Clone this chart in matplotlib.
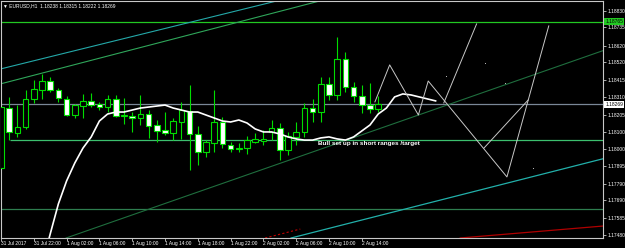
import matplotlib
matplotlib.use('Agg')
import matplotlib.pyplot as plt
import numpy as np

# ---------------- data (EURUSD H1) ----------------
opens = [1.17884, 1.18245, 1.18095, 1.18131, 1.18300, 1.18354, 1.18408, 1.18354, 1.18300, 1.18203,
         1.18257, 1.18288, 1.18269, 1.18251, 1.18300, 1.18197, 1.18197, 1.18185, 1.18209, 1.18143,
         1.18113, 1.18095, 1.18161, 1.18227, 1.18089, 1.17980, 1.18034, 1.18161, 1.18022, 1.17998,
         1.18004, 1.18040, 1.18046, 1.18101, 1.18125, 1.17992, 1.18071, 1.18101, 1.18245, 1.18221,
         1.18390, 1.18324, 1.18541, 1.18372, 1.18318, 1.18263, 1.18238]
highs = [1.18300, 1.18312, 1.18263, 1.18354, 1.18414, 1.18450, 1.18432, 1.18366, 1.18318, 1.18269,
         1.18330, 1.18336, 1.18282, 1.18324, 1.18324, 1.18306, 1.18221, 1.18324, 1.18233, 1.18173,
         1.18221, 1.18185, 1.18282, 1.18384, 1.18137, 1.18052, 1.18354, 1.18191, 1.18040, 1.18034,
         1.18077, 1.18095, 1.18113, 1.18173, 1.18155, 1.18101, 1.18161, 1.18275, 1.18300, 1.18432,
         1.18432, 1.18673, 1.18583, 1.18402, 1.18384, 1.18396, 1.18315]
lows = [1.17872, 1.18052, 1.18071, 1.18119, 1.18275, 1.18300, 1.18342, 1.18282, 1.18197, 1.18185,
        1.18185, 1.18251, 1.18233, 1.18221, 1.18191, 1.18149, 1.18101, 1.18143, 1.18065, 1.18040,
        1.18083, 1.18052, 1.18059, 1.17872, 1.17902, 1.17950, 1.17980, 1.18004, 1.17980, 1.17980,
        1.17968, 1.18034, 1.18022, 1.18052, 1.17932, 1.17962, 1.18022, 1.18071, 1.18161, 1.18161,
        1.18294, 1.18294, 1.18342, 1.18282, 1.18215, 1.18215, 1.18222]
closes = [1.18251, 1.18101, 1.18131, 1.18300, 1.18360, 1.18408, 1.18354, 1.18306, 1.18203, 1.18263,
          1.18288, 1.18263, 1.18251, 1.18300, 1.18197, 1.18203, 1.18185, 1.18209, 1.18137, 1.18107,
          1.18095, 1.18167, 1.18233, 1.18089, 1.17980, 1.18040, 1.18161, 1.18028, 1.17998, 1.18004,
          1.18052, 1.18059, 1.18059, 1.18125, 1.17992, 1.18077, 1.18101, 1.18245, 1.18221, 1.18390,
          1.18324, 1.18541, 1.18372, 1.18318, 1.18263, 1.18239, 1.18269]

# shifted moving average (starts at bar 4, extends 7 bars to the right)
ma_start = 4
ma_values = [1.17088, 1.17299, 1.17486, 1.17668, 1.17806, 1.17914, 1.18004, 1.18071, 1.18167, 1.18209,
             1.18221, 1.18221, 1.18233, 1.18245, 1.18251, 1.18257, 1.18263, 1.18245, 1.18233, 1.18221,
             1.18221, 1.18203, 1.18185, 1.18167, 1.18161, 1.18173, 1.18155, 1.18119, 1.18101, 1.18101,
             1.18089, 1.18071, 1.18059, 1.18052, 1.18052, 1.18065, 1.18071, 1.18059, 1.18052, 1.18071,
             1.18107, 1.18143, 1.18209, 1.18245, 1.18312, 1.18330, 1.18324, 1.18312, 1.18300, 1.18288]

time_tick_bars = [0, 4, 8, 12, 16, 20, 24, 28, 32, 36, 40, 44]
time_tick_labels = ["31 Jul 2017", "31 Jul 22:00", "1 Aug 02:00", "1 Aug 06:00", "1 Aug 10:00",
                    "1 Aug 14:00", "1 Aug 18:00", "1 Aug 22:00", "2 Aug 02:00", "2 Aug 06:00",
                    "2 Aug 10:00", "2 Aug 14:00"]
price_ticks = [1.18830, 1.18735, 1.18620, 1.18520, 1.18415, 1.18310, 1.18205, 1.18100,
               1.18000, 1.17895, 1.17790, 1.17690, 1.17585, 1.17480]

# drawn objects: horizontal levels and trend lines (bar index, price)
level_top = 1.18765
level_bid = 1.18269
level_mid = 1.18052
level_low = 1.17637
trend_a = [(-0.1, 1.18480), (26.7, 1.18806)]
trend_b = [(-0.1, 1.18390), (26.7, 1.18734)]
trend_d = [(45.0, 1.18101), (73.3, 1.18589)]
trend_c = [(58.4, 1.17751), (73.3, 1.17938)]
trend_red = [(56.0, 1.17462), (73.4, 1.17534)]
red_dotted = [(32.2, 1.17462), (36.5, 1.17516)]
proj1_x = [45.6, 47.4, 50.9, 52.1, 61.7, 66.8]
proj1_y = [1.18282, 1.18505, 1.18203, 1.18408, 1.17830, 1.18740]
proj2_x = [58.9, 64.3]
proj2_y = [1.18004, 1.18294]
proj3_x = [54.0, 58.0]
proj3_y = [1.18276, 1.18752]
dots_x = [54.3, 59.0, 61.5, 64.9]
dots_y = [1.18438, 1.18517, 1.18396, 1.17883]
note_text = "Bull set up in short ranges /target"
header = "EURUSD,H1  1.18238 1.18315 1.18222 1.18269"

# ---------------- figure ----------------
W, H = 625, 248
fig = plt.figure(figsize=(W / 100, H / 100), dpi=100, facecolor='black')
ax = fig.add_axes([1 / W, 10 / H, 602 / W, 237 / H], facecolor='black')
ax.set_xlim(0, 602 / 8.2)
ax.set_ylim(1.17462, 1.18890)

fam = ['Liberation Sans', 'DejaVu Sans']
fs = 3.5
green = '#00dd00'

# levels
ax.axhline(level_top, color='#22c822', lw=0.9, zorder=1)
ax.axhline(level_bid, color='#7a8797', lw=0.9, zorder=1)
ax.hlines(level_mid, 1.1, 100, color='#3cbf6e', lw=0.9, zorder=1)
ax.axhline(level_low, color='#2e7d4f', lw=0.9, zorder=1)

# trend lines
ax.axline(*trend_a, color='#24a8a8', lw=0.8, zorder=1)
ax.axline(*trend_b, color='#2fa65a', lw=0.8, zorder=1)
ax.axline(*trend_d, color='#1f6e3e', lw=0.8, zorder=1)
ax.axline(*trend_c, color='#22b0aa', lw=0.9, zorder=1)
ax.axline(*trend_red, color='#b00000', lw=0.9, zorder=1)
ax.plot([p[0] for p in red_dotted], [p[1] for p in red_dotted], color='#c00000', lw=0.8,
        ls=(0, (2, 2)), zorder=1)

# candles
x = np.arange(len(opens))
o = np.array(opens); c = np.array(closes); h = np.array(highs); l = np.array(lows)
ax.vlines(x, l, h, color=green, lw=0.8, zorder=2)
bull = c >= o
body_lo = np.minimum(o, c)
body_h = np.maximum(np.abs(c - o), 0.00003)
ax.bar(x[bull], body_h[bull], bottom=body_lo[bull], width=0.68, facecolor='black',
       edgecolor=green, lw=0.8, zorder=3)
ax.bar(x[~bull], body_h[~bull], bottom=body_lo[~bull], width=0.68, facecolor='white',
       edgecolor=green, lw=0.8, zorder=3)

# moving average
ax.plot(np.arange(ma_start, ma_start + len(ma_values)), ma_values, color='white', lw=1.2, zorder=4)

# projection lines
for px, py in [(proj1_x, proj1_y), (proj2_x, proj2_y), (proj3_x, proj3_y)]:
    ax.plot(px, py, color='#c8c8c8', lw=0.7, zorder=4)
ax.scatter(dots_x, dots_y, s=0.6, color='#d0d0d0', zorder=4, linewidths=0)

ax.text(38.7, 1.18034, note_text, color='white', fontsize=4.6, family=fam, fontweight='bold',
        va='center', ha='left', zorder=5)

# axes styling
for s in ax.spines.values():
    s.set_color('#c8c8c8'); s.set_linewidth(0.8)
ax.yaxis.tick_right()
ax.set_yticks(price_ticks)
ax.set_yticklabels([f"{p:.5f}" for p in price_ticks])
ax.set_xticks(time_tick_bars)
ax.set_xticklabels(time_tick_labels, ha='left')
ax.tick_params(axis='y', colors='#c8c8c8', length=2, width=0.6, pad=1.2, labelcolor='white', labelsize=fs)
ax.tick_params(axis='x', colors='#c8c8c8', length=2, width=0.6, pad=0.5, labelcolor='white', labelsize=fs)
for lab in ax.get_xticklabels() + ax.get_yticklabels():
    lab.set_family(fam)

# highlighted price boxes
ax.text(1.004, level_top, f"{level_top:.5f}", transform=ax.get_yaxis_transform(), ha='left', va='center',
        fontsize=fs, family=fam, color='black',
        bbox=dict(boxstyle='square,pad=0.2', fc='#22c822', ec='none'))
ax.text(1.004, level_bid, f"{level_bid:.5f}", transform=ax.get_yaxis_transform(), ha='left', va='center',
        fontsize=fs, family=fam, color='black',
        bbox=dict(boxstyle='square,pad=0.2', fc='white', ec='none'))

fig.text(3 / W, 1 - 6 / H, "\u25BC " + header, color='white', fontsize=fs, family=fam,
         va='center', ha='left')

fig.savefig('out.png', dpi=100, facecolor='black')
